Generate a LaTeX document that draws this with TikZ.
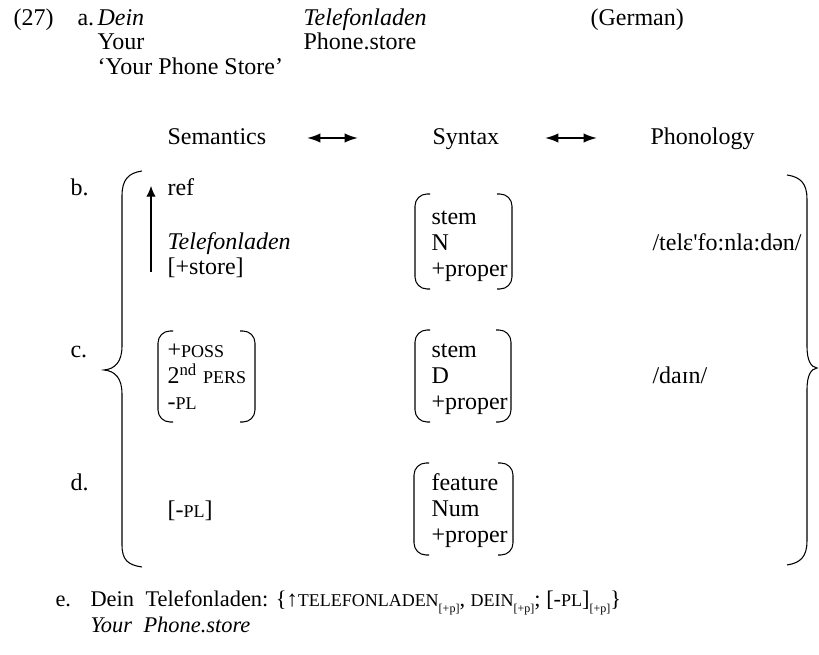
\documentclass[tikz,border=0pt]{standalone}
\usepackage{fontspec}
\setmainfont{Liberation Serif}
\usepackage{tikz}
\usetikzlibrary{arrows.meta}

% small caps as the example sets them
\newcommand{\smc}[1]{{\fontsize{13.5}{14}\selectfont #1}}
\newcommand{\pp}{\raisebox{-4pt}{\fontsize{9}{9}\selectfont[+p]}}
% feature matrix brackets: left x, right x, top y, bottom y
\newcommand{\fbr}[4]{%
  \draw[brk] (#1+15,#3) -- (#1,#3) -- (#1,#4) -- (#1+15,#4);
  \draw[brk] (#2-15,#3) -- (#2,#3) -- (#2,#4) -- (#2-15,#4);}

\begin{document}
\begin{tikzpicture}[x=0.75pt,y=-0.75pt,line width=0.8pt,font=\fontsize{18}{19.5}\selectfont]

	\tikzstyle{txt} = [anchor=base west,inner sep=0pt]
	\tikzstyle{etxt} = [txt,font=\fontsize{16.8}{18}\selectfont]
	\tikzstyle{brk} = [rounded corners=9pt]
	\tikzstyle{dbl} = [{Latex[length=10pt,width=7pt]}-{Latex[length=10pt,width=7pt]},line width=1.3pt]

	\useasboundingbox (0,0) rectangle (819,655);

	% (27a)
	\node[txt] (exno) at (13,26) {(27)};
	\node[txt] (la) at (77,26) {a.};
	\node[txt] (dein) at (97,26) {\textit{Dein}};
	\node[txt] (tel) at (303,26) {\textit{Telefonladen}};
	\node[txt] (lang) at (590,26) {(German)};
	\node[txt] (your) at (97,50) {Your};
	\node[txt] (phone) at (303,50) {Phone.store};
	\node[txt] (trans) at (97,75) {`Your Phone Store'};

	% header
	\node[txt] (sem) at (167,145) {Semantics};
	\node[txt] (syn) at (432,145) {Syntax};
	\node[txt] (phon) at (650,145) {Phonology};
	\coordinate (s1) at (307,138);
	\coordinate (s2) at (358,138);
	\coordinate (p1) at (545,138);
	\coordinate (p2) at (597,138);
	\draw[dbl] (s1) -- (s2);
	\draw[dbl] (p1) -- (p2);

	% b.
	\node[txt] (lb) at (70,196) {b.};
	\node[txt] (ref) at (167,196) {ref};
	\coordinate (up0) at (151,272);
	\coordinate (up1) at (151,186);
	\draw[-{Latex[length=8pt,width=7pt]}] (up0) -- (up1);
	\node[txt] (semb) at (167,250) {\textit{Telefonladen}};
	\node[txt] (store) at (167,275) {[+store]};
	\node[txt] (synb1) at (431,225) {stem};
	\node[txt] (synb2) at (431,251) {N};
	\node[txt] (synb3) at (431,277) {+proper};
	\fbr{415}{512}{194}{289}
	\node[txt] (phonb) at (652,251) {/telɛ\textquotesingle fo:nla:dən/};

	% c.
	\node[txt] (lc) at (70,358) {c.};
	\node[txt] (semc1) at (167,358) {+\smc{POSS}};
	\node[txt] (semc2) at (167,384) {2\textsuperscript{nd} \smc{PERS}};
	\node[txt] (semc3) at (167,410) {-\smc{PL}};
	\fbr{158}{255}{331}{422}
	\node[txt] (sync1) at (431,358) {stem};
	\node[txt] (sync2) at (431,384) {D};
	\node[txt] (sync3) at (431,410) {+proper};
	\fbr{415}{511}{330}{422}
	\node[txt] (phonc) at (652,384) {/daɪn/};

	% d.
	\node[txt] (ld) at (70,491) {d.};
	\node[txt] (semd) at (167,518) {[-\smc{PL}]};
	\node[txt] (synd1) at (431,491) {feature};
	\node[txt] (synd2) at (431,517) {Num};
	\node[txt] (synd3) at (431,543) {+proper};
	\fbr{414}{513}{463}{555}

	% big braces
	\draw (142,171) .. controls (128,173) and (122,180) .. (122,196)
		-- (122,346) .. controls (122,362) and (115,369) .. (104,370)
		.. controls (115,371) and (122,378) .. (122,394)
		-- (122,545) .. controls (122,560) and (128,565) .. (142,567);
	\draw (787,175) .. controls (801,177) and (807,184) .. (807,199)
		-- (807,346) .. controls (807,361) and (811,367) .. (817,368)
		.. controls (811,369) and (807,375) .. (807,390)
		-- (807,541) .. controls (807,556) and (801,563) .. (787,565);

	% e.
	\node[etxt] (le) at (55,607) {e.};
	\node[etxt] (edein) at (90,607) {Dein};
	\node[etxt] (erest) at (145,607) {Telefonladen: \{↑\smc{TELEFONLADEN}\pp, \smc{DEIN}\pp; [-\smc{PL}]\pp\}};
	\node[etxt] (eyour) at (90,633) {\textit{Your}};
	\node[etxt] (ephone) at (143,633) {\textit{Phone.store}};

\end{tikzpicture}
\end{document}
